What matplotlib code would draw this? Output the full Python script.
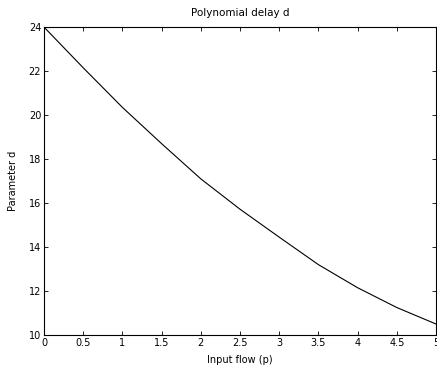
import numpy as np
import matplotlib
matplotlib.use("Agg")
import matplotlib.pyplot as plt

# values
p = [0.0, 0.5, 1.0, 1.5, 2.0, 2.5, 3.0, 3.5, 4.0, 4.5, 5.0]
d = [24.0, 22.15, 20.35, 18.7, 17.1, 15.72, 14.45, 13.2, 12.15, 11.25, 10.5]

xticks = [0, 0.5, 1, 1.5, 2, 2.5, 3, 3.5, 4, 4.5, 5]
xticklabels = ["0", "0.5", "1", "1.5", "2", "2.5", "3", "3.5", "4", "4.5", "5"]
yticks = [10, 12, 14, 16, 18, 20, 22, 24]

plt.rcParams['font.family'] = ['DejaVu Sans']
fig = plt.figure(figsize=(4.37, 3.71), dpi=100)
ax = fig.add_axes([0.1007, 0.097, 0.897, 0.83])

ax.plot(p, d, color="black", linewidth=0.8)

ax.set_xlim(0, 5)
ax.set_ylim(10, 24)
ax.set_xticks(xticks)
ax.set_xticklabels(xticklabels)
ax.set_yticks(yticks)
ax.tick_params(direction="in", length=3, width=0.6, labelsize=7,
               top=True, right=True, pad=2)
for s in ax.spines.values():
    s.set_linewidth(0.8)

ax.set_title("Polynomial delay d", fontsize=7.5, pad=8)
ax.set_xlabel("Input flow (p)", fontsize=7, labelpad=5)
ax.set_ylabel("Parameter d", fontsize=7, labelpad=7.5)

fig.savefig("out.png", dpi=100)
